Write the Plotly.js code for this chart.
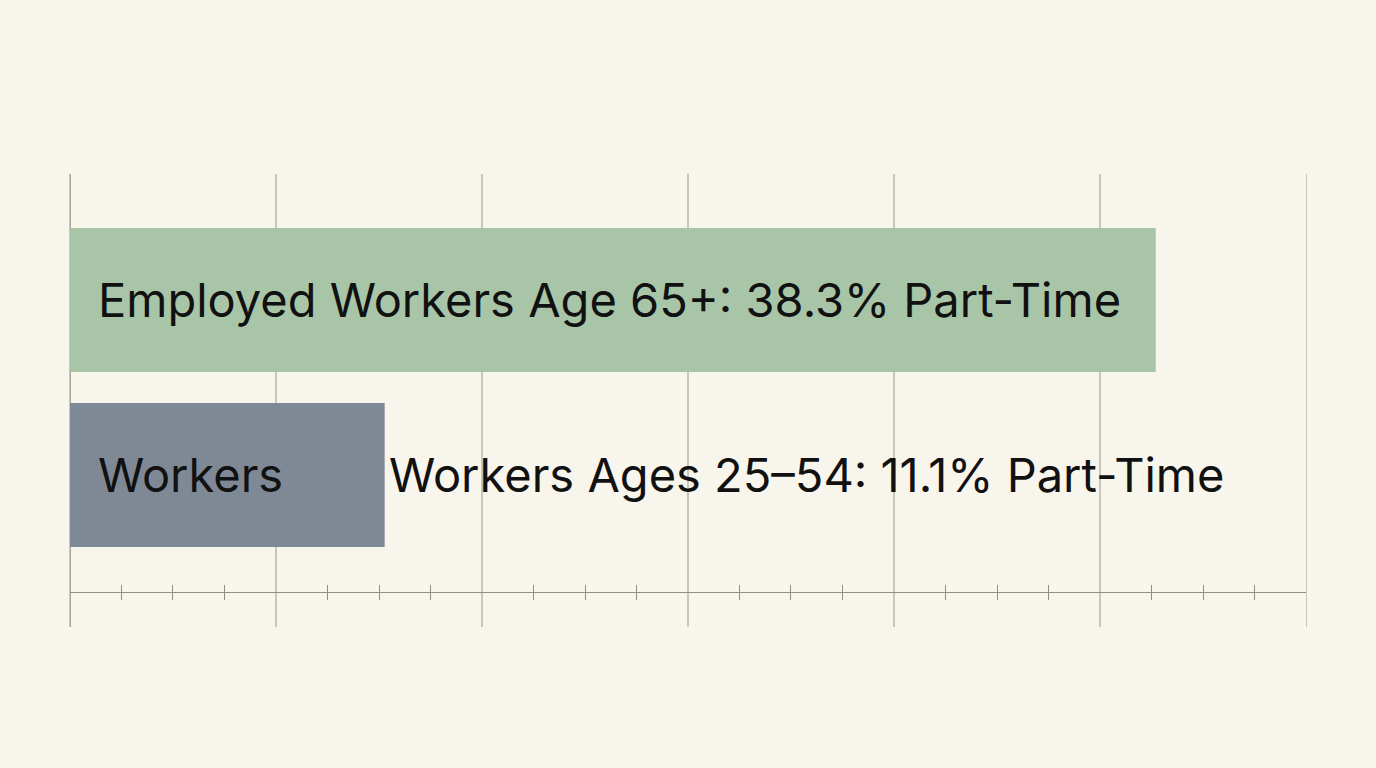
<!DOCTYPE html>
<html>
<head>
<meta charset="utf-8">
<script src="https://cdn.plot.ly/plotly-3.0.1.min.js"></script>
<style>
  html, body { margin: 0; padding: 0; background: #f8f5ec; }
  #chart { width: 1376px; height: 768px; }
</style>
</head>
<body>
<div id="chart"></div>
<script>
// share of employed workers working part-time (%)
var groups = ['Age 65+', 'Ages 25-54'];
var partTime = [38.3, 11.1];
var barColors = ['#a8c5a8', '#7f8995'];
var insideLabels = ['Employed Workers Age 65+: 38.3% Part-Time', 'Workers'];
var outsideLabels = ['', 'Workers Ages 25\u201354: 11.1% Part-Time'];

var X_MAX = 43.6;
var majorTicks = [], minorTicks = [];
for (var k = 0; k <= 6; k++) majorTicks.push(Math.round(k * X_MAX / 6 * 1000) / 1000);
for (var m = 0; m <= 24; m++) if (m % 4) minorTicks.push(Math.round(m * X_MAX / 24 * 1000) / 1000);
var axisPos = 0.077;
var gridColor = '#c9c6bb';
var textFont = { family: 'Inter, "Open Sans", sans-serif', size: 47, color: '#111111' };

var trace = {
  type: 'bar',
  orientation: 'h',
  y: groups,
  x: partTime,
  marker: { color: barColors, line: { width: 0 } },
  hoverinfo: 'none'
};

// hidden traces only to carry the tick axes
var tickTraceDown = {
  type: 'scatter', mode: 'markers', x: [0], y: [groups[0]],
  xaxis: 'x2', marker: { opacity: 0 }, hoverinfo: 'none', showlegend: false
};
var tickTraceUp = {
  type: 'scatter', mode: 'markers', x: [0], y: [groups[0]],
  xaxis: 'x3', marker: { opacity: 0 }, hoverinfo: 'none', showlegend: false
};

var annotations = [];
for (var i = 0; i < groups.length; i++) {
  annotations.push({
    x: 0, y: groups[i], xref: 'x', yref: 'y',
    text: insideLabels[i], showarrow: false,
    xanchor: 'left', yanchor: 'middle', xshift: 26,
    font: textFont
  });
  if (outsideLabels[i]) {
    annotations.push({
      x: partTime[i], y: groups[i], xref: 'x', yref: 'y',
      text: outsideLabels[i], showarrow: false,
      xanchor: 'left', yanchor: 'middle', xshift: 2,
      font: textFont
    });
  }
}

var tickAxis = function (side) {
  return {
    range: [0, X_MAX], overlaying: 'x',
    anchor: 'free', position: axisPos, side: side,
    tickmode: 'array', tickvals: minorTicks,
    showgrid: false, zeroline: false, showline: false,
    showticklabels: false, ticks: 'outside', ticklen: 7,
    tickcolor: '#8f8f84', tickwidth: 1
  };
};

var layout = {
  width: 1376, height: 768,
  margin: { l: 70, r: 70, t: 174, b: 141 },
  paper_bgcolor: '#f8f5ec',
  plot_bgcolor: '#f8f5ec',
  showlegend: false,
  bargap: 0.177,
  xaxis: {
    range: [0, X_MAX],
    anchor: 'free', position: axisPos,
    tickmode: 'array', tickvals: majorTicks,
    showgrid: true, gridcolor: gridColor, gridwidth: 1.2,
    zeroline: true, zerolinecolor: '#a9a79d', zerolinewidth: 1.5,
    showline: true, linecolor: '#8f8f84', linewidth: 1.2,
    showticklabels: false, ticks: ''
  },
  xaxis2: tickAxis('bottom'),
  xaxis3: tickAxis('top'),
  yaxis: {
    range: [1.869, -0.72],
    showgrid: false, zeroline: false,
    showline: true, mirror: true, linecolor: gridColor, linewidth: 1.2,
    showticklabels: false, ticks: ''
  },
  annotations: annotations
};

Plotly.newPlot('chart', [trace, tickTraceDown, tickTraceUp], layout, { staticPlot: true });
</script>
</body>
</html>
